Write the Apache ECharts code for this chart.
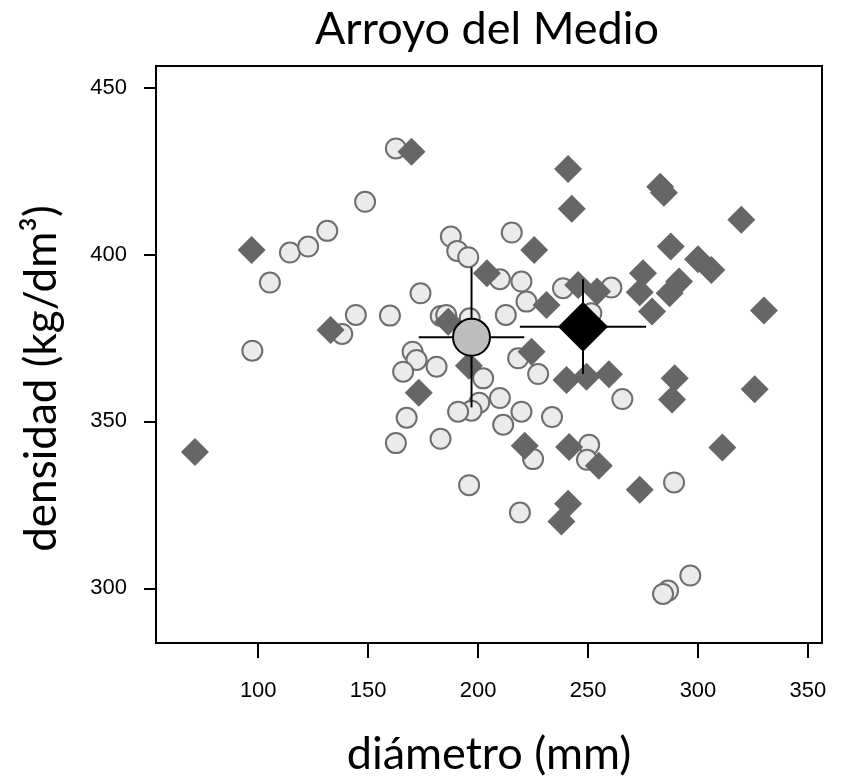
<!DOCTYPE html>
<html>
<head>
<meta charset="utf-8">
<script src="https://cdn.jsdelivr.net/npm/echarts@6/dist/echarts.min.js"></script>
<style>
  html, body { margin: 0; padding: 0; background: #fff; }
  #chart { width: 842px; height: 778px; }
</style>
</head>
<body>
<div id="chart"></div>
<script>
// tick labels
var xTicks = [100, 150, 200, 250, 300, 350];
var yTicks = [300, 350, 400, 450];

// light grey circles (diámetro, densidad)
var circleX = [162.6, 148.6, 114.4, 122.7, 131.4, 105.3, 187.6, 190.5, 195.5, 209.9,
  219.7, 215.3, 173.8, 222.0, 238.6, 260.6, 144.4, 159.9, 183.0, 185.5,
  196.2, 212.6, 251.5, 138.2, 97.3, 170.2, 172.0, 165.9, 181.1, 202.3,
  218.2, 227.3, 209.9, 200.5, 197.0, 190.9, 219.7, 167.5, 211.4, 233.6,
  182.9, 162.6, 225.0, 250.5, 249.5, 265.6, 289.1, 195.9, 219.0, 296.5,
  286.4, 284.1];
var circleY = [431.8, 415.8, 400.6, 402.4, 407.1, 391.6, 405.4, 401.1, 399.2, 392.6,
  391.9, 406.6, 388.4, 385.9, 389.9, 390.1, 381.9, 381.7, 381.6, 381.9,
  380.9, 381.9, 382.4, 376.2, 371.2, 370.9, 368.4, 364.9, 366.4, 362.9,
  368.9, 364.2, 357.0, 355.6, 353.2, 352.9, 352.9, 351.1, 349.0, 351.3,
  344.8, 343.5, 338.7, 343.0, 338.5, 356.7, 331.7, 330.9, 322.7, 303.8,
  299.3, 298.3];

// dark grey diamonds
var diamondX = [169.7, 97.0, 204.0, 225.5, 240.9, 242.6, 282.8, 284.5, 319.7, 287.6,
  300.0, 306.1, 275.0, 273.5, 291.4, 287.1, 279.1, 330.0, 231.1, 245.5,
  254.1, 186.4, 132.9, 224.3, 195.8, 173.0, 240.2, 249.3, 259.5, 289.4,
  288.2, 325.8, 221.2, 241.4, 254.9, 311.1, 273.5, 240.9, 237.9, 71.2];
var diamondY = [430.8, 401.4, 394.4, 401.4, 425.6, 413.7, 420.3, 418.5, 410.4, 402.4,
  398.6, 395.4, 394.4, 388.7, 391.9, 388.4, 382.9, 383.2, 384.9, 390.9,
  388.9, 379.9, 377.4, 370.9, 366.7, 358.6, 362.4, 363.4, 364.1, 362.9,
  356.6, 359.6, 342.7, 342.3, 336.7, 342.2, 329.5, 325.3, 320.0, 340.8];

// group means with error bars: [circles, diamonds]
var meanX = [197.0, 247.7];
var meanY = [375.2, 378.4];
var errX = [24.0, 28.7];
var errY = [21.0, 14.2];

function pairs(xs, ys) {
  var out = [];
  for (var i = 0; i < xs.length; i++) out.push([xs[i], ys[i]]);
  return out;
}

var errData = [];
for (var i = 0; i < meanX.length; i++) {
  errData.push([meanX[i], meanY[i], errX[i], errY[i]]);
}

var chart = echarts.init(document.getElementById('chart'));

var option = {
  animation: false,
  backgroundColor: '#fff',
  title: {
    text: 'Arroyo del Medio',
    left: 482,
    top: 2,
    textAlign: 'center',
    textStyle: { fontFamily: 'Lato', fontSize: 45, fontWeight: 'normal', color: '#000' }
  },
  grid: {
    left: 156, right: 20, top: 66, bottom: 135,
    outerBoundsMode: 'none',
    containLabel: false,
    show: true, borderColor: '#000', borderWidth: 2, backgroundColor: 'transparent'
  },
  xAxis: {
    type: 'value',
    min: 53.5,
    max: 356.4,
    name: 'diámetro (mm)',
    nameLocation: 'middle',
    nameGap: 89,
    nameTextStyle: { fontFamily: 'Lato', fontSize: 45, color: '#000' },
    axisLine: { show: false },
    splitLine: { show: false },
    axisTick: { show: true, length: 15, lineStyle: { color: '#000', width: 2 }, customValues: xTicks },
    axisLabel: { fontFamily: 'Liberation Sans', fontSize: 22, color: '#000', margin: 37, customValues: xTicks }
  },
  yAxis: {
    type: 'value',
    min: 283.6,
    max: 456.5,
    name: 'densidad (kg/dm³)',
    nameLocation: 'middle',
    nameRotate: 90,
    nameGap: 92,
    nameTextStyle: { fontFamily: 'Lato', fontSize: 44, color: '#000', padding: [0, 48, 0, 0] },
    axisLine: { show: false },
    splitLine: { show: false },
    axisTick: { show: true, length: 12, lineStyle: { color: '#000', width: 2 }, customValues: yTicks },
    axisLabel: { fontFamily: 'Liberation Sans', fontSize: 22, color: '#000', margin: 29, customValues: yTicks }
  },
  series: [
    {
      type: 'scatter',
      data: pairs(circleX, circleY),
      symbol: 'circle',
      symbolSize: 20,
      itemStyle: { color: '#ebebeb', borderColor: '#6e6e6e', borderWidth: 2, opacity: 1 },
      z: 2
    },
    {
      type: 'scatter',
      data: pairs(diamondX, diamondY),
      symbol: 'diamond',
      symbolSize: 28,
      itemStyle: { color: '#666666', opacity: 1 },
      z: 3
    },
    {
      type: 'custom',
      data: errData,
      z: 4,
      renderItem: function (params, api) {
        var x = api.value(0), y = api.value(1), ex = api.value(2), ey = api.value(3);
        var l = api.coord([x - ex, y]);
        var r = api.coord([x + ex, y]);
        var t = api.coord([x, y + ey]);
        var b = api.coord([x, y - ey]);
        var st = { stroke: '#000', lineWidth: 2 };
        return {
          type: 'group',
          children: [
            { type: 'line', shape: { x1: l[0], y1: l[1], x2: r[0], y2: r[1] }, style: st },
            { type: 'line', shape: { x1: t[0], y1: t[1], x2: b[0], y2: b[1] }, style: st }
          ]
        };
      }
    },
    {
      type: 'scatter',
      data: [[meanX[0], meanY[0]]],
      symbol: 'circle',
      symbolSize: 37,
      itemStyle: { color: '#bebebe', borderColor: '#000', borderWidth: 2, opacity: 1 },
      z: 5
    },
    {
      type: 'scatter',
      data: [[meanX[1], meanY[1]]],
      symbol: 'diamond',
      symbolSize: 50,
      itemStyle: { color: '#000', opacity: 1 },
      z: 5
    }
  ]
};

chart.setOption(option);
</script>
</body>
</html>
